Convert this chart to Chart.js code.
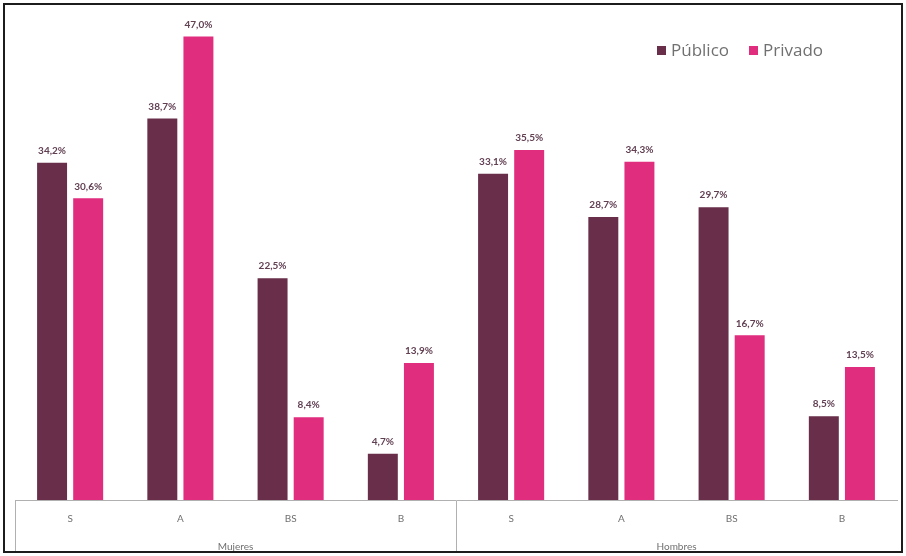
<!DOCTYPE html>
<html>
<head>
<meta charset="utf-8">
<script src="https://cdn.jsdelivr.net/npm/chart.js@4.4.1/dist/chart.umd.min.js"></script>
<style>
html,body{margin:0;padding:0;background:#fff;}
#wrap{position:relative;width:906px;height:556px;}
#frame{position:absolute;left:3px;top:3px;width:900px;height:550px;border:2px solid #1c1c1c;box-sizing:border-box;pointer-events:none;}
#legend{position:absolute;top:38px;left:657px;font-family:'Open Sans',sans-serif;font-size:17px;color:#707070;display:flex;gap:20px;}
#legend span.box{display:inline-block;width:9px;height:9px;margin-right:5px;vertical-align:1px;}
</style>
</head>
<body>
<div id="wrap">
  <canvas id="chart" width="906" height="556"></canvas>
  <div id="legend"></div>
  <div id="frame"></div>
</div>
<script>
// categorias y valores (%)
const categorias = ["S","A","BS","B","S","A","BS","B"];
const grupos     = ["Mujeres","Hombres"];
const publico    = [34.2, 38.7, 22.5, 4.7, 33.1, 28.7, 29.7, 8.5];
const privado    = [30.6, 47.0, 8.4, 13.9, 35.5, 34.3, 16.7, 13.5];
const series     = ["Público","Privado"];
const colores    = ["#692e49","#e02d7e"];

const fmt = (v)=> v.toFixed(1).replace(".",",")+"%";

// etiquetas encima de cada barra
const valueLabels = {
  id:"valueLabels",
  afterDatasetsDraw(chart){
    const ctx = chart.ctx;
    ctx.save();
    ctx.font = "bold 10px Lato, 'Open Sans', sans-serif";
    ctx.fillStyle = "#624053";
    ctx.textAlign = "center";
    ctx.textBaseline = "bottom";
    chart.data.datasets.forEach((ds,i)=>{
      chart.getDatasetMeta(i).data.forEach((bar,j)=>{
        ctx.fillText(fmt(ds.data[j]), bar.x, bar.y - 7);
      });
    });
    ctx.restore();
  }
};

const divisiones = [0,4,8];

const chart = new Chart(document.getElementById("chart"), {
  type:"bar",
  data:{
    labels: categorias,
    datasets:[
      { label: series[0], data: publico, backgroundColor: colores[0] },
      { label: series[1], data: privado, backgroundColor: colores[1] }
    ]
  },
  options:{
    responsive:false,
    animation:false,
    categoryPercentage:0.655,
    barPercentage:0.83,
    layout:{ padding:{ left:15, right:9, top:7, bottom:0 } },
    plugins:{ legend:{ display:false }, tooltip:{ enabled:false } },
    scales:{
      y:{ display:false, min:0, max:50 },
      x:{
        position:"bottom",
        weight:0,
        offset:true,
        border:{ display:true, color:"#b0b0b0", width:1 },
        grid:{
          offset:true,
          drawOnChartArea:false,
          tickLength:52,
          color:(c)=> divisiones.includes(c.index) ? "#b0b0b0" : "rgba(0,0,0,0)"
        },
        ticks:{ padding:-39, maxRotation:0, color:"#707070", font:{ family:"Lato, sans-serif", size:10 } },
        afterFit:(s)=>{ s.height = 26; }   // las divisiones bajan hasta el marco
      },
      xg:{
        type:"category",
        position:"bottom",
        weight:1,
        labels: grupos,
        offset:true,
        border:{ display:false },
        grid:{ display:false },
        ticks:{ padding:7, maxRotation:0, color:"#707070", font:{ family:"Lato, sans-serif", size:10 } },
        afterFit:(s)=>{ s.height = 30; }
      }
    }
  },
  plugins:[valueLabels]
});

// leyenda
const leg = document.getElementById("legend");
series.forEach((s,i)=>{
  const it = document.createElement("div");
  it.innerHTML = `<span class="box" style="background:${colores[i]}"></span>${s}`;
  leg.appendChild(it);
});
</script>
</body>
</html>
